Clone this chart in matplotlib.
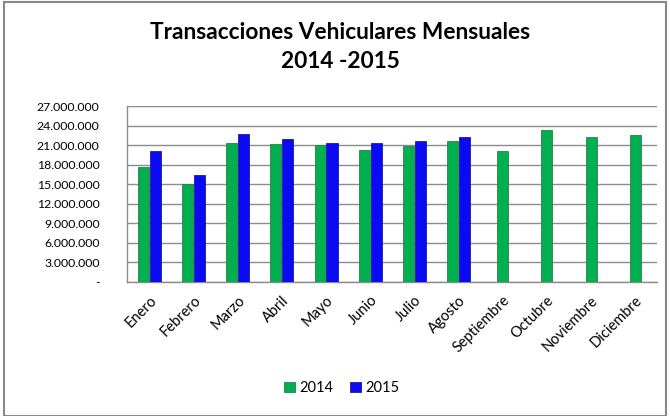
import matplotlib.pyplot as plt
import numpy as np
from matplotlib.patches import Rectangle

meses = ["Enero", "Febrero", "Marzo", "Abril", "Mayo", "Junio", "Julio",
         "Agosto", "Septiembre", "Octubre", "Noviembre", "Diciembre"]
valores_2014 = [17.6, 15.0, 21.4, 21.2, 21.0, 20.2, 20.9, 21.7, 20.1, 23.3, 22.2, 22.6]
valores_2015 = [20.1, 16.4, 22.65, 22.0, 21.3, 21.4, 21.6, 22.2]
yticks = np.arange(0, 27.1, 3)
ytick_labels = ["-"] + [f"{int(v):d}.000.000" for v in yticks[1:]]

plt.rcParams["font.family"] = ["Lato", "DejaVu Sans"]

fig = plt.figure(figsize=(6.7, 4.16), dpi=100)
ax = fig.add_axes([0.19, 0.322, 0.791, 0.423])

x = np.arange(len(meses))
n15 = len(valores_2015)
w = 0.25
ax.bar(x[:n15] - w / 2 - 0.01, valores_2014[:n15],
       width=w, color="#00B050", edgecolor="#2E7D4A", linewidth=0.6, label="2014", zorder=3)
ax.bar(x[n15:], valores_2014[n15:],
       width=w, color="#00B050", edgecolor="#2E7D4A", linewidth=0.6, zorder=3)
ax.bar(x[:n15] + w / 2 + 0.01, valores_2015,
       width=w, color="#0A0AF5", edgecolor="#1A1A9A", linewidth=0.6, label="2015", zorder=3)

ax.set_xlim(-0.5, len(meses) - 0.5)
ax.set_ylim(0, 27)
ax.set_yticks(yticks)
ax.set_yticklabels(ytick_labels, fontsize=8.8)
ax.set_xticks(x)
ax.set_xticklabels(meses, rotation=45, ha="right", rotation_mode="anchor", fontsize=10.5)
ax.tick_params(axis="y", length=0, pad=20)
ax.tick_params(axis="x", length=0, pad=8)
ax.yaxis.grid(True, color="#8C8C8C", linewidth=1.0, zorder=0)
for s in ["top", "right"]:
    ax.spines[s].set_visible(False)
for s in ["left", "bottom"]:
    ax.spines[s].set_color("#8C8C8C")
    ax.spines[s].set_linewidth(1.0)

fig.text(0.508, 0.923, "Transacciones Vehiculares Mensuales", ha="center", va="center",
         fontsize=16.3, fontweight="bold")
fig.text(0.508, 0.851, "2014 -2015", ha="center", va="center", fontsize=16.3, fontweight="bold")

ax.legend(loc="center", bbox_to_anchor=(0.51, 0.067), bbox_transform=fig.transFigure,
          ncol=2, frameon=False, fontsize=10.5, handlelength=0.7, handleheight=0.7,
          handletextpad=0.3, columnspacing=1.2)

fig.patches.append(Rectangle((0.006, 0.0), 0.988, 0.994, transform=fig.transFigure,
                             fill=False, edgecolor="#888888", linewidth=1.5))

fig.savefig("out.png", dpi=100)
